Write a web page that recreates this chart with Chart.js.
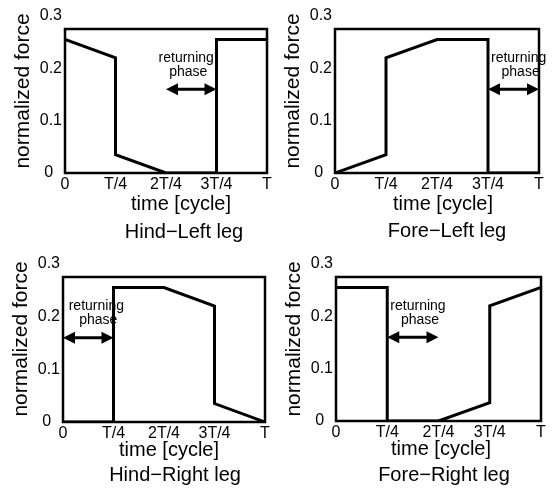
<!DOCTYPE html>
<html>
<head>
<meta charset="utf-8">
<script src="https://cdn.jsdelivr.net/npm/chart.js@4.4.1/dist/chart.umd.min.js"></script>
<style>
  html, body { margin: 0; padding: 0; background: #fff; }
  #wrap { position: relative; width: 552px; height: 491px; }
  canvas { position: absolute; }
</style>
</head>
<body>
<div id="wrap">
  <canvas id="c1" width="276" height="245" style="left:0;top:0"></canvas>
  <canvas id="c2" width="276" height="245" style="left:276px;top:0"></canvas>
  <canvas id="c3" width="276" height="246" style="left:0;top:245px"></canvas>
  <canvas id="c4" width="276" height="246" style="left:276px;top:245px"></canvas>
</div>
<script>
// time in units of the cycle T, force normalized
var hindLeftX  = [0, 0.25, 0.25, 0.5, 0.75, 0.75, 1];
var hindLeftY  = [0.255, 0.22, 0.035, 0, 0, 0.255, 0.255];
var foreLeftX  = [0, 0.25, 0.25, 0.5, 0.75, 0.75, 1];
var foreLeftY  = [0, 0.035, 0.22, 0.255, 0.255, 0, 0];
var hindRightX = [0, 0.25, 0.25, 0.5, 0.75, 0.75, 1];
var hindRightY = [0, 0, 0.255, 0.255, 0.22, 0.035, 0];
var foreRightX = [0, 0.25, 0.25, 0.5, 0.75, 0.75, 1];
var foreRightY = [0.255, 0.255, 0, 0, 0.035, 0.22, 0.255];

// returning phase (start, end) of each leg
var hindLeftReturn  = [0.5, 0.75];
var foreLeftReturn  = [0.75, 1];
var hindRightReturn = [0, 0.25];
var foreRightReturn = [0.25, 0.5];
var returnArrowY = 0.16;

var xTicks = [0, 0.25, 0.5, 0.75, 1];
var xTickLabels = ['0', 'T/4', '2T/4', '3T/4', 'T'];
var yTicks = [0, 0.1, 0.2, 0.3];
var yTickLabels = ['0', '0.1', '0.2', '0.3'];

var FONT = "'Liberation Sans', Arial, Helvetica, sans-serif";

// box of each plot in canvas pixels, and where the text goes
var panels = [
  { id: 'c1', name: 'Hind\u2212Left leg',  xs: hindLeftX,  ys: hindLeftY,  ret: hindLeftReturn,
    box: { left: 65, right: 267, top: 29, bottom: 173 }, timeX: 181, legX: 184, timeY: 204, legY: 232, retX: 0.60 },
  { id: 'c2', name: 'Fore\u2212Left leg',  xs: foreLeftX,  ys: foreLeftY,  ret: foreLeftReturn,
    box: { left: 59, right: 263, top: 29, bottom: 173 }, timeX: 167, legX: 171, timeY: 204, legY: 231, retX: 0.90 },
  { id: 'c3', name: 'Hind\u2212Right leg', xs: hindRightX, ys: hindRightY, ret: hindRightReturn,
    box: { left: 63, right: 265, top: 32, bottom: 177 }, timeX: 169, legX: 175, timeY: 205, legY: 230, retX: 0.165 },
  { id: 'c4', name: 'Fore\u2212Right leg', xs: foreRightX, ys: foreRightY, ret: foreRightReturn,
    box: { left: 60, right: 265, top: 32, bottom: 176 }, timeX: 165, legX: 168, timeY: 204, legY: 230, retX: 0.40 }
];

function arrowHead(ctx, x, y, dir) {
  ctx.beginPath();
  ctx.moveTo(x, y);
  ctx.lineTo(x - dir * 12, y - 6);
  ctx.lineTo(x - dir * 12, y + 6);
  ctx.closePath();
  ctx.fill();
}

var decorPlugin = {
  id: 'decor',
  afterDraw: function (chart) {
    var p = chart.options.plugins.decor;
    var ctx = chart.ctx;
    var a = chart.chartArea;
    var xs = chart.scales.x, ys = chart.scales.y;
    ctx.save();
    ctx.strokeStyle = '#000';
    ctx.fillStyle = '#000';
    // frame
    ctx.lineWidth = 2.5;
    ctx.strokeRect(a.left, a.top, a.right - a.left, a.bottom - a.top);

    // returning phase arrow
    var x1 = xs.getPixelForValue(p.ret[0]);
    var x2 = xs.getPixelForValue(p.ret[1]);
    var y = ys.getPixelForValue(returnArrowY);
    ctx.lineWidth = 3;
    ctx.beginPath();
    ctx.moveTo(x1 + 8, y);
    ctx.lineTo(x2 - 8, y);
    ctx.stroke();
    arrowHead(ctx, x1, y, -1);
    arrowHead(ctx, x2, y, 1);

    ctx.textAlign = 'center';
    ctx.textBaseline = 'middle';
    ctx.font = '14px ' + FONT;
    var tx = xs.getPixelForValue(p.retX);
    ctx.fillText('returning', tx, y - 31);
    ctx.fillText('phase', tx + 2, y - 17);

    // axis titles
    ctx.font = '20px ' + FONT;
    ctx.fillText('time [cycle]', p.timeX, p.timeY);
    ctx.fillText(p.name, p.legX, p.legY);

    ctx.translate(a.left - 42, a.top + 62);
    ctx.rotate(-Math.PI / 2);
    ctx.font = '21px ' + FONT;
    ctx.fillText('normalized force', 0, 0);
    ctx.restore();
  }
};

panels.forEach(function (p) {
  var canvas = document.getElementById(p.id);
  var W = canvas.width, H = canvas.height;
  var b = p.box;
  var points = p.xs.map(function (x, i) { return { x: x, y: p.ys[i] }; });

  new Chart(canvas.getContext('2d'), {
    type: 'line',
    data: {
      datasets: [{
        data: points,
        borderColor: '#000',
        borderWidth: 3,
        pointRadius: 0,
        tension: 0,
        fill: false,
        borderJoinStyle: 'miter'
      }]
    },
    options: {
      responsive: false,
      animation: false,
      events: [],
      layout: { padding: { left: 0, top: b.top, right: W - b.right, bottom: H - b.bottom - 30 } },
      plugins: {
        legend: { display: false },
        tooltip: { enabled: false },
        decor: { ret: p.ret, retX: p.retX, timeX: p.timeX, legX: p.legX, timeY: p.timeY, legY: p.legY, name: p.name }
      },
      scales: {
        x: {
          type: 'linear', min: 0, max: 1,
          grid: { display: false, drawTicks: false },
          border: { display: false },
          afterBuildTicks: function (s) { s.ticks = xTicks.map(function (v) { return { value: v }; }); },
          afterFit: function (s) { s.height = 30; },
          ticks: {
            autoSkip: false, maxRotation: 0, padding: 2, color: '#000',
            font: { family: FONT, size: 16 },
            callback: function (v, i) { return xTickLabels[i]; }
          }
        },
        y: {
          type: 'linear', min: 0, max: 0.275,
          grid: { display: false, drawTicks: false },
          border: { display: false },
          afterBuildTicks: function (s) { s.ticks = yTicks.map(function (v) { return { value: v }; }); },
          afterFit: function (s) { s.width = b.left; },
          ticks: {
            autoSkip: false, padding: 3, color: '#000',
            font: { family: FONT, size: 16 },
            callback: function (v, i) { return i === 0 ? yTickLabels[i] + '  ' : yTickLabels[i]; }
          }
        }
      }
    },
    plugins: [decorPlugin]
  });
});
</script>
</body>
</html>
